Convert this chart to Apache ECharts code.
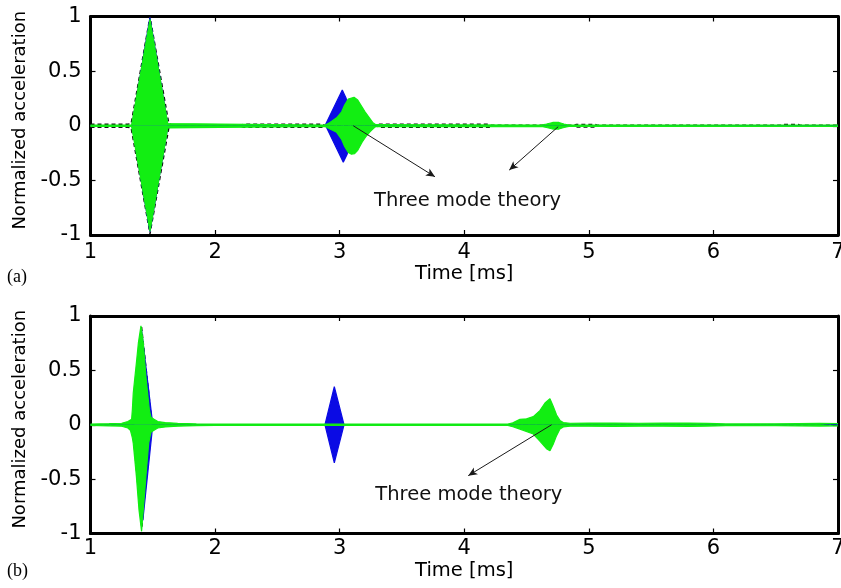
<!DOCTYPE html>
<html>
<head>
<meta charset="utf-8">
<script src="https://cdn.jsdelivr.net/npm/echarts@6/dist/echarts.min.js"></script>
<style>
html,body{margin:0;padding:0;background:#fff;}
#chart{width:841px;height:588px;}
</style>
</head>
<body>
<div id="chart"></div>
<script>
// Axis ranges and tick spacing
const timeRange = [1, 7];
const timeStep = 1;
const accRange = [-1, 1];
const accStep = 0.5;

// ---- Panel (a): envelopes of the acceleration signals, [time ms, normalized acceleration]
const aGreenUpper = [[1.00,0.006],[1.33,0.006],[1.336,0.02],[1.4775,0.975],[1.62,0.02],[1.63,0.006],
  [2.88,0.006],[2.90,0.015],[2.922,0.03],[2.976,0.073],[3.016,0.128],[3.04,0.19],[3.069,0.245],[3.085,0.258],
  [3.115,0.26],[3.145,0.235],[3.175,0.18],[3.205,0.125],[3.24,0.07],[3.265,0.03],[3.29,0.01],[3.30,0.006],
  [4.62,0.006],[4.66,0.016],[4.71,0.03],[4.76,0.03],[4.80,0.016],[4.84,0.006],[7.00,0.006]];
const aGreenLower = [[1.00,-0.006],[1.33,-0.006],[1.336,-0.02],[1.4775,-0.965],[1.62,-0.02],[1.63,-0.006],
  [2.88,-0.006],[2.90,-0.015],[2.922,-0.03],[2.976,-0.06],[3.016,-0.125],[3.04,-0.19],[3.069,-0.245],[3.095,-0.26],
  [3.12,-0.255],[3.145,-0.225],[3.18,-0.15],[3.21,-0.1],[3.243,-0.055],[3.27,-0.025],[3.29,-0.008],[3.30,-0.006],
  [4.62,-0.006],[4.66,-0.016],[4.71,-0.03],[4.76,-0.03],[4.80,-0.016],[4.84,-0.006],[7.00,-0.006]];
const aBlueUpper = [[1.00,0],[1.333,0],[1.477,0.99],[1.622,0],[2.882,0],[3.021,0.327],[3.05,0.257],[3.12,0],[7.00,0]];
const aBlueLower = [[1.00,0],[1.333,0],[1.477,-0.97],[1.622,0],[2.888,0],[3.029,-0.335],[3.06,-0.26],[3.125,0],[7.00,0]];
const aBlackUpper = [[1.00,0.014],[1.30,0.014],[1.326,0.02],[1.4775,1.0],[1.629,0.02],[1.66,0.004],
  [2.20,0.004],[2.23,0.014],[2.86,0.014],[2.88,0.004],[3.30,0.004],[3.32,0.014],[4.20,0.014],[4.22,0.004],
  [4.88,0.004],[4.90,0.013],[5.05,0.013],[5.07,0.004],[6.55,0.004],[6.57,0.012],[6.68,0.012],[6.70,0.004],[7.00,0.004]];
const aBlackLower = [[1.00,-0.014],[1.30,-0.014],[1.326,-0.02],[1.4775,-0.99],[1.629,-0.02],[1.66,-0.004],
  [2.20,-0.004],[2.23,-0.014],[2.86,-0.014],[2.88,-0.004],[3.30,-0.004],[3.32,-0.014],[4.20,-0.014],[4.22,-0.004],
  [4.88,-0.004],[4.90,-0.013],[5.05,-0.013],[5.07,-0.004],[7.00,-0.004]];

// ---- Panel (b)
const bGreenUpper = [[1.00,0.006],[1.15,0.01],[1.25,0.014],[1.30,0.03],[1.33,0.05],[1.336,0.14],[1.343,0.29],
  [1.371,0.6],[1.384,0.75],[1.405,0.91],[1.424,0.75],[1.445,0.44],[1.472,0.14],[1.485,0.07],[1.51,0.05],
  [1.54,0.03],[1.60,0.02],[1.70,0.013],[1.85,0.008],[2.00,0.006],[4.35,0.006],[4.39,0.018],[4.447,0.05],
  [4.50,0.055],[4.554,0.075],[4.607,0.13],[4.648,0.2],[4.688,0.24],[4.714,0.17],[4.741,0.09],[4.768,0.04],
  [4.795,0.02],[4.85,0.014],[5.00,0.015],[5.20,0.016],[5.40,0.014],[5.60,0.015],[5.80,0.016],[5.95,0.013],
  [6.10,0.008],[6.50,0.009],[6.85,0.012],[7.00,0.01]];
const bGreenLower = [[1.00,-0.006],[1.15,-0.01],[1.25,-0.014],[1.30,-0.03],[1.32,-0.05],[1.336,-0.12],[1.343,-0.17],
  [1.368,-0.47],[1.389,-0.78],[1.41,-0.98],[1.424,-0.78],[1.445,-0.47],[1.467,-0.17],[1.485,-0.07],[1.51,-0.05],
  [1.54,-0.03],[1.60,-0.02],[1.70,-0.013],[1.85,-0.008],[2.00,-0.006],[4.35,-0.006],[4.39,-0.018],[4.447,-0.04],
  [4.554,-0.085],[4.607,-0.15],[4.66,-0.22],[4.688,-0.24],[4.714,-0.18],[4.741,-0.1],[4.768,-0.04],[4.795,-0.02],
  [4.85,-0.014],[5.00,-0.013],[5.20,-0.016],[5.40,-0.014],[5.60,-0.013],[5.80,-0.015],[5.95,-0.012],
  [6.10,-0.008],[6.50,-0.008],[6.85,-0.012],[7.00,-0.01]];
const bBlueUpper = [[1.00,0],[1.34,0],[1.41,0.87],[1.50,0],[2.882,0],[2.957,0.35],[3.035,0],[7.00,0]];
const bBlueLower = [[1.00,0],[1.35,0],[1.42,-0.88],[1.50,0],[2.882,0],[2.957,-0.35],[3.035,0],[7.00,0]];
const bBlackUpper = [[1.00,0],[1.333,0],[1.41,0.9],[1.495,0],[7.00,0]];
const bBlackLower = [[1.00,0],[1.336,0],[1.412,-0.95],[1.482,0],[7.00,0]];

// ---- Annotations: arrow [from, to] in data units, and the note position
const noteText = 'Three mode theory';
const aArrows = [[[3.109,0],[3.765,-0.467]], [[4.754,-0.009],[4.361,-0.406]]];
const aNote = [4.026,-0.69];
const bArrows = [[[4.701,0],[4.032,-0.468]]];
const bNote = [4.037,-0.642];

const GREEN = '#12ee12';
const BLUE = '#0b0be4';
const BLACK = '#111';
const FONT = 'DejaVu Sans';

function envelope(data, color, gi, z, fill, dashed) {
  return {
    type: 'line', xAxisIndex: gi * 2, yAxisIndex: gi * 2, data: data,
    symbol: 'none', showSymbol: false, silent: true, z: z,
    lineStyle: { color: color, width: dashed ? 1.4 : 1.2, type: dashed ? [4, 3] : 'solid' },
    areaStyle: fill ? { color: color, opacity: 1, origin: 'auto' } : undefined
  };
}

function annotations(gi, arrows, note) {
  return {
    type: 'line', xAxisIndex: gi * 2, yAxisIndex: gi * 2, data: [], silent: true, z: 10,
    markLine: {
      silent: true, animation: false,
      symbol: ['none', 'arrow'], symbolSize: [6, 9],
      label: { show: false },
      lineStyle: { color: '#1a1a1a', width: 1, type: 'solid' },
      emphasis: { disabled: true },
      data: arrows.map(a => [{ coord: a[0] }, { coord: a[1] }])
    },
    markPoint: {
      silent: true, animation: false,
      symbol: 'rect', symbolSize: 1,
      itemStyle: { color: 'rgba(0,0,0,0)' },
      label: { show: true, position: 'inside', formatter: noteText, color: '#111', fontFamily: FONT, fontSize: 19.5 },
      data: [{ coord: note }]
    }
  };
}

const frame = { show: true, onZero: false, lineStyle: { color: '#000', width: 3 } };
const ticks = { show: true, inside: true, length: 5, lineStyle: { color: '#000', width: 1.2 } };

function xAxes(gi, nameGap, labelMargin) {
  return [
    { gridIndex: gi, type: 'value', position: 'bottom', min: timeRange[0], max: timeRange[1], interval: timeStep,
      axisLine: frame, axisTick: ticks, splitLine: { show: false },
      axisLabel: { color: '#000', fontFamily: FONT, fontSize: 21, margin: labelMargin },
      name: 'Time [ms]', nameLocation: 'middle', nameGap: nameGap,
      nameTextStyle: { color: '#000', fontFamily: FONT, fontSize: 19.5 } },
    { gridIndex: gi, type: 'value', position: 'top', min: timeRange[0], max: timeRange[1], interval: timeStep,
      axisLine: frame, axisTick: ticks, splitLine: { show: false }, axisLabel: { show: false } }
  ];
}

function yAxes(gi) {
  return [
    { gridIndex: gi, type: 'value', position: 'left', min: accRange[0], max: accRange[1], interval: accStep,
      axisLine: frame, axisTick: ticks, splitLine: { show: false },
      axisLabel: { color: '#000', fontFamily: FONT, fontSize: 21, margin: 9 },
      name: 'Normalized acceleration', nameLocation: 'middle', nameGap: 58,
      nameTextStyle: { color: '#000', fontFamily: FONT, fontSize: 18, padding: [0, 0, 0, 11] } },
    { gridIndex: gi, type: 'value', position: 'right', min: accRange[0], max: accRange[1], interval: accStep,
      axisLine: frame, axisTick: ticks, splitLine: { show: false }, axisLabel: { show: false } }
  ];
}

const chart = echarts.init(document.getElementById('chart'), null, { renderer: 'canvas' });
chart.setOption({
  animation: false,
  backgroundColor: '#fff',
  grid: [
    { left: 90.5, top: 16.5, width: 747.5, height: 218.5, containLabel: false, outerBoundsMode: 'none' },
    { left: 90.5, top: 316, width: 747.5, height: 217.5, containLabel: false, outerBoundsMode: 'none' }
  ],
  xAxis: [...xAxes(0, 27, 7), ...xAxes(1, 27, 5)],
  yAxis: [...yAxes(0), ...yAxes(1)],
  graphic: [
    { type: 'text', left: 7, top: 268, style: { text: '(a)', fill: '#000', font: '18px "Liberation Serif"' } },
    { type: 'text', left: 7, top: 562, style: { text: '(b)', fill: '#000', font: '18px "Liberation Serif"' } }
  ],
  series: [
    envelope(aBlackUpper, BLACK, 0, 2, false, true),
    envelope(aBlackLower, BLACK, 0, 2, false, true),
    envelope(aBlueUpper, BLUE, 0, 3, true, false),
    envelope(aBlueLower, BLUE, 0, 3, true, false),
    envelope(aGreenUpper, GREEN, 0, 4, true, false),
    envelope(aGreenLower, GREEN, 0, 4, true, false),
    annotations(0, aArrows, aNote),

    envelope(bBlackUpper, BLACK, 1, 2, false, true),
    envelope(bBlackLower, BLACK, 1, 2, false, true),
    envelope(bBlueUpper, BLUE, 1, 3, true, false),
    envelope(bBlueLower, BLUE, 1, 3, true, false),
    envelope(bGreenUpper, GREEN, 1, 4, true, false),
    envelope(bGreenLower, GREEN, 1, 4, true, false),
    annotations(1, bArrows, bNote)
  ]
});
</script>
</body>
</html>
